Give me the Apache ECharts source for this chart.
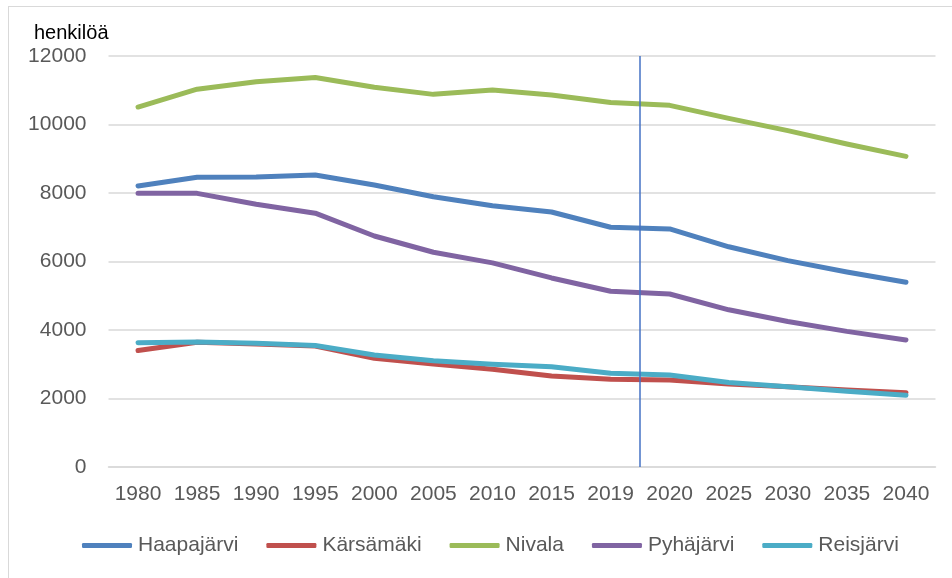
<!DOCTYPE html>
<html>
<head>
<meta charset="utf-8">
<script src="https://cdn.jsdelivr.net/npm/echarts@6/dist/echarts.min.js"></script>
<style>
  html, body { margin: 0; padding: 0; background: #fff; }
  #frame { position: absolute; left: 8px; top: 6px; width: 960px; height: 600px;
           border-left: 1.5px solid #d9d9d9; border-top: 1.5px solid #d9d9d9; pointer-events: none; }
  #chart { position: absolute; left: 0; top: 0; width: 952px; height: 578px; }
</style>
</head>
<body>
<div id="chart"></div>
<div id="frame"></div>
<script>
const years = ['1980', '1985', '1990', '1995', '2000', '2005', '2010', '2015', '2019', '2020', '2025', '2030', '2035', '2040'];
const haapajarvi = [8205, 8460, 8470, 8525, 8235, 7890, 7630, 7445, 7000, 6950, 6430, 6025, 5695, 5395];
const karsamaki = [3400, 3640, 3590, 3530, 3175, 3010, 2855, 2660, 2560, 2540, 2420, 2340, 2250, 2170];
const nivala = [10510, 11030, 11250, 11370, 11085, 10880, 11010, 10860, 10640, 10560, 10180, 9820, 9430, 9070];
const pyhajarvi = [7990, 7990, 7670, 7410, 6745, 6270, 5960, 5520, 5130, 5050, 4590, 4250, 3960, 3710];
const reisjarvi = [3630, 3650, 3610, 3545, 3270, 3105, 3000, 2930, 2735, 2685, 2470, 2340, 2210, 2095];
// forecast boundary: edge between the 2019 and 2020 category bands
const splitAt = 9;

const chart = echarts.init(document.getElementById('chart'));
const font = 'Liberation Sans, Arial, sans-serif';

function line(name, data, color) {
  return {
    name: name,
    type: 'line',
    data: data,
    symbol: 'none',
    color: color,
    lineStyle: { width: 5, color: color, cap: 'round', join: 'round' }
  };
}

const series = [
  line('Haapajärvi', haapajarvi, '#4f81bd'),
  line('Kärsämäki', karsamaki, '#c0504d'),
  line('Nivala', nivala, '#9bbb59'),
  line('Pyhäjärvi', pyhajarvi, '#8064a2'),
  line('Reisjärvi', reisjarvi, '#4bacc6')
];
// helper series on a hidden band axis, only carries the vertical marker
series.push({
  name: 'split',
  type: 'line',
  xAxisIndex: 1,
  data: [],
  silent: true,
  markLine: {
    silent: true,
    symbol: 'none',
    label: { show: false },
    lineStyle: { color: '#4472c4', width: 1.5, type: 'solid' },
    data: [{ xAxis: splitAt }]
  }
});

const option = {
  animation: false,
  title: {
    text: 'henkilöä',
    left: 29,
    top: 18,
    textStyle: { fontFamily: font, fontSize: 20, fontWeight: 'normal', color: '#000' }
  },
  grid: { left: 108.5, right: 16.5, top: 56, bottom: 111 },
  legend: {
    left: 77,
    top: 530,
    itemWidth: 50,
    itemHeight: 5,
    itemGap: 28,
    icon: 'roundRect',
    textStyle: { fontFamily: font, fontSize: 21, color: '#595959', padding: [0, 0, 0, 1] },
    data: ['Haapajärvi', 'Kärsämäki', 'Nivala', 'Pyhäjärvi', 'Reisjärvi']
  },
  xAxis: [{
    type: 'category',
    data: years,
    boundaryGap: true,
    axisLine: { show: true, lineStyle: { color: '#d9d9d9', width: 1.5 } },
    axisTick: { show: false },
    axisLabel: { interval: 0, fontFamily: font, fontSize: 21, color: '#595959', margin: 17 }
  }, {
    type: 'value',
    min: 0,
    max: years.length,
    show: false
  }],
  yAxis: {
    type: 'value',
    min: 0,
    max: 12000,
    interval: 2000,
    axisLine: { show: false },
    axisTick: { show: false },
    splitLine: { lineStyle: { color: '#d9d9d9', width: 1.5 } },
    axisLabel: { fontFamily: font, fontSize: 21, color: '#595959', margin: 22, formatter: v => String(v) }
  },
  series: series
};

chart.setOption(option);
</script>
</body>
</html>
